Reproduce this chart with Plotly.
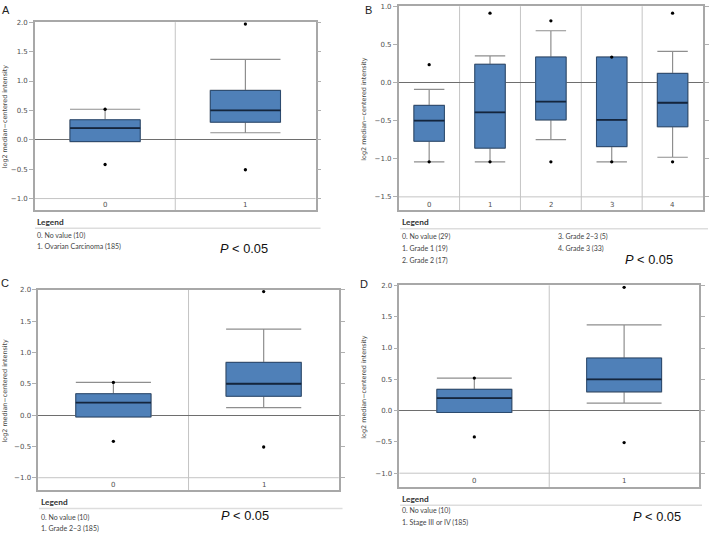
import plotly.graph_objects as go

# ---------------- data ----------------
cats_2 = [0, 1]
cat_labels_2 = ["0", "1"]
# Panel A / C / D (same values)
A_q1 = [-0.03, 0.30]
A_median = [0.20, 0.50]
A_q3 = [0.34, 0.84]
A_low = [-0.03, 0.12]
A_high = [0.52, 1.37]
A_min = [-0.42, -0.51]
A_max = [0.52, 1.97]

# Panel B
cats_5 = [0, 1, 2, 3, 4]
cat_labels_5 = ["0", "1", "2", "3", "4"]
B_q1 = [-0.77, -0.86, -0.49, -0.84, -0.58]
B_median = [-0.50, -0.39, -0.25, -0.49, -0.265]
B_q3 = [-0.30, 0.24, 0.335, 0.335, 0.12]
B_low = [-1.04, -1.04, -0.75, -1.04, -0.98]
B_high = [-0.09, 0.35, 0.68, 0.335, 0.41]
B_min = [-1.04, -1.04, -1.04, -1.04, -1.04]
B_max = [0.235, 0.91, 0.81, 0.335, 0.91]

legend_A = ["0. No value (10)", "1. Ovarian Carcinoma (185)"]
legend_B = ["0. No value (29)", "1. Grade 1 (19)", "2. Grade 2 (17)", "3. Grade 2\u22123 (5)", "4. Grade 3 (33)"]
legend_C = ["0. No value (10)", "1. Grade 2\u22123 (185)"]
legend_D = ["0. No value (10)", "1. Stage III or IV (185)"]

y_title = "log2 median\u2212centered intensity"

# ---------------- styling ----------------
W, H = 709, 533
BOX_FILL = "#4f80b8"
BOX_LINE = "#2b4a6f"
MED_LINE = "#14253c"
WHISK = "#8e8e8e"
FRAME = "#a8a8a8"
DIV = "#c4c4c4"
TXT = "#505050"

def px(x):
    return x / W

def py(y):
    return 1 - y / H

fig = go.Figure()

panels = [
    dict(ax="", cats=cats_2, labels=cat_labels_2, q1=A_q1, med=A_median, q3=A_q3, lo=A_low, hi=A_high,
         mn=A_min, mx=A_max, xd=(35, 316), yd=(19.3, 208.5), yr=(-1.2, 2.001), ylow=-1.0),
    dict(ax="2", cats=cats_5, labels=cat_labels_5, q1=B_q1, med=B_median, q3=B_q3, lo=B_low, hi=B_high,
         mn=B_min, mx=B_max, xd=(399.3, 704), yd=(3.3, 208.3), yr=(-1.674, 1.001), ylow=-1.5),
    dict(ax="3", cats=cats_2, labels=cat_labels_2, q1=A_q1, med=A_median, q3=A_q3, lo=A_low, hi=A_high,
         mn=A_min, mx=A_max, xd=(38.3, 339.3), yd=(288.3, 490), yr=(-1.2, 2.001), ylow=-1.0),
    dict(ax="4", cats=cats_2, labels=cat_labels_2, q1=A_q1, med=A_median, q3=A_q3, lo=A_low, hi=A_high,
         mn=A_min, mx=A_max, xd=(400, 700), yd=(284, 486.7), yr=(-1.22, 2.001), ylow=-1.0),
]

shapes = []
annotations = []

for p in panels:
    xa = "x" + p["ax"]
    ya = "y" + p["ax"]
    n = len(p["cats"])
    # whiskers (gray)
    fig.add_trace(go.Box(x=p["cats"], q1=p["q1"], median=p["med"], q3=p["q3"],
                         lowerfence=p["lo"], upperfence=p["hi"], width=0.5, whiskerwidth=1,
                         line=dict(color=WHISK, width=1.2), fillcolor="rgba(0,0,0,0)",
                         boxpoints=False, hoverinfo="skip", xaxis=xa, yaxis=ya))
    # box body
    fig.add_trace(go.Box(x=p["cats"], q1=p["q1"], median=p["med"], q3=p["q3"],
                         lowerfence=p["q1"], upperfence=p["q3"], width=0.5, whiskerwidth=0,
                         line=dict(color=BOX_LINE, width=1), fillcolor=BOX_FILL,
                         boxpoints=False, xaxis=xa, yaxis=ya))
    # median line
    fig.add_trace(go.Box(x=p["cats"], q1=p["med"], median=p["med"], q3=p["med"],
                         lowerfence=p["med"], upperfence=p["med"], width=0.5, whiskerwidth=0,
                         line=dict(color=MED_LINE, width=1.8), fillcolor="rgba(0,0,0,0)",
                         boxpoints=False, hoverinfo="skip", xaxis=xa, yaxis=ya))
    # min / max dots
    fig.add_trace(go.Scatter(x=p["cats"] + p["cats"], y=p["mn"] + p["mx"], mode="markers",
                             marker=dict(color="black", size=3.3), xaxis=xa, yaxis=ya))

    xkey = "xaxis" + p["ax"]
    ykey = "yaxis" + p["ax"]
    fig.update_layout(**{
        xkey: dict(domain=[px(p["xd"][0]), px(p["xd"][1])], range=[-0.5, n - 0.5], anchor=ya,
                   showticklabels=False, ticks="", showgrid=False, zeroline=False,
                   showline=True, mirror=True, linecolor=FRAME, linewidth=1.5, fixedrange=True),
        ykey: dict(domain=[py(p["yd"][1]), py(p["yd"][0])], range=list(p["yr"]), anchor=xa,
                   tick0=0, dtick=0.5, tickformat=".1f", ticks="outside", ticklen=4,
                   tickcolor="#b0b0b0", tickwidth=1, showgrid=False,
                   showline=True, mirror="ticks", linecolor=FRAME, linewidth=1.5,
                   zeroline=True, zerolinecolor="#6e6e6e", zerolinewidth=1.2,
                   tickfont=dict(family="DejaVu Sans", size=7, color=TXT), fixedrange=True),
    })
    for k in range(n - 1):
        shapes.append(dict(type="line", xref=xa, yref=ya + " domain", x0=k + 0.5, x1=k + 0.5,
                           y0=0, y1=1, line=dict(color=DIV, width=1), layer="below"))
    shapes.append(dict(type="line", xref=xa + " domain", yref=ya, x0=0, x1=1,
                       y0=p["ylow"], y1=p["ylow"], line=dict(color=DIV, width=1), layer="below"))
    ylab = p["ylow"] - 0.58 * (p["ylow"] - p["yr"][0])
    for c, lab in zip(p["cats"], p["labels"]):
        annotations.append(dict(x=c, y=ylab, xref=xa, yref=ya, text=lab, showarrow=False,
                                font=dict(family="DejaVu Sans", size=7, color=TXT)))

# y-axis titles
for xpos, yd in [(5, (19.3, 208.5)), (365, (3.3, 208.3)), (4.5, (288.3, 490)), (365, (284, 486.7))]:
    annotations.append(dict(x=px(xpos), y=py((yd[0] + yd[1]) / 2), xref="paper", yref="paper",
                            text=y_title, textangle=-90, showarrow=False, xanchor="center", yanchor="middle",
                            font=dict(family="DejaVu Sans", size=6.4, color="#444444")))

# panel letters
for letter, xx, yy in [("A", 6.5, 7), ("B", 369, 7), ("C", 5, 282), ("D", 364.5, 283)]:
    annotations.append(dict(x=px(xx), y=py(yy), xref="paper", yref="paper", text=letter,
                            showarrow=False, xanchor="center", yanchor="middle",
                            font=dict(family="Liberation Sans", size=11, color="#222222")))

def legend_block(x0, x1, y_leg, y_line, items):
    annotations.append(dict(x=px(x0), y=py(y_leg), xref="paper", yref="paper", text="<b>Legend</b>",
                            showarrow=False, xanchor="left", yanchor="middle", borderpad=0,
                            font=dict(family="Lato", size=8.3, color="#333333")))
    shapes.append(dict(type="line", xref="paper", yref="paper", x0=px(x0 - 1), x1=px(x1),
                       y0=py(y_line), y1=py(y_line), line=dict(color="#dddddd", width=1.5)))
    for (tx, ty, t) in items:
        annotations.append(dict(x=px(tx), y=py(ty), xref="paper", yref="paper", text=t,
                                showarrow=False, xanchor="left", yanchor="middle", borderpad=0,
                                font=dict(family="Lato", size=7, color="#444444")))

def p_text(x, y):
    annotations.append(dict(x=px(x), y=py(y), xref="paper", yref="paper",
                            text="<i>P</i> < 0.05", showarrow=False, xanchor="left", yanchor="middle",
                            borderpad=0,
                            font=dict(family="Liberation Sans", size=12.8, color="#111111")))

legend_block(36, 321, 220, 226.5, [(36, 234, legend_A[0]), (36, 245, legend_A[1])])
p_text(219, 247)

legend_block(401.7, 709, 220, 227, [(401.7, 235, legend_B[0]), (401.7, 247, legend_B[1]),
                                    (401.7, 259, legend_B[2]), (558, 235, legend_B[3]),
                                    (558, 247, legend_B[4])])
p_text(625, 258)

legend_block(40, 343, 502, 508.3, [(40, 517, legend_C[0]), (40, 528, legend_C[1])])
p_text(220, 515)

legend_block(401.7, 703, 498.7, 505, [(401.7, 510.7, legend_D[0]), (401.7, 522, legend_D[1])])
p_text(632.7, 516.7)

fig.update_layout(width=W, height=H, margin=dict(l=0, r=0, t=0, b=0),
                  paper_bgcolor="white", plot_bgcolor="white", showlegend=False,
                  boxmode="overlay", shapes=shapes, annotations=annotations)

fig.write_html("out.html", config={"displayModeBar": False},
               post_script="document.body.style.margin='0px';document.body.style.overflow='hidden';")
